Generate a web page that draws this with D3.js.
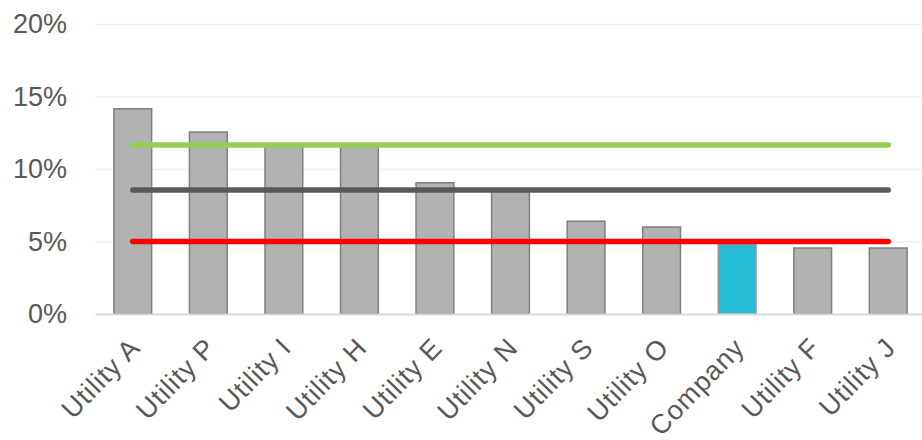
<!DOCTYPE html>
<html>
<head>
<meta charset="utf-8">
<script src="https://cdn.jsdelivr.net/npm/d3@7"></script>
<style>
  html, body { margin: 0; padding: 0; background: #fff; }
  text { font-family: "Liberation Sans", Arial, sans-serif; }
</style>
</head>
<body>
<div id="chart"></div>
<script>
// Values (percent)
const categories = ['Utility A', 'Utility P', 'Utility I', 'Utility H', 'Utility E',
    'Utility N', 'Utility S', 'Utility O', 'Company', 'Utility F', 'Utility J'];
const values = [14.15, 12.55, 11.55, 11.6, 9.05, 8.45, 6.4, 6.0, 4.8, 4.55, 4.55];
const highlight = 'Company';

// Reference lines (percent)
const refNames = ['top', 'average', 'bottom'];
const refValues = [11.65, 8.55, 5.0];
const refColors = ['#92D050', '#595959', '#FF0000'];

const yTicks = [0, 5, 10, 15, 20];

const width = 922;
const height = 440;
const margin = { top: 24, right: -4, bottom: 126, left: 95 };

const svg = d3.select('#chart')
    .append('svg')
    .attr('width', width)
    .attr('height', height);

const chartWidth = width - margin.left - margin.right;
const chartHeight = height - margin.top - margin.bottom;

const g = svg.append('g')
    .attr('transform', `translate(${margin.left},${margin.top})`);

// Scales
const xScale = d3.scaleBand()
    .domain(categories)
    .range([0, chartWidth])
    .paddingInner(0.5)
    .paddingOuter(0.25);

const yScale = d3.scaleLinear()
    .domain([0, 20])
    .range([chartHeight, 0]);

// Grid lines
g.append('g')
    .attr('class', 'grid')
    .call(d3.axisLeft(yScale)
        .tickValues(yTicks.slice(1))
        .tickSize(-chartWidth)
        .tickFormat('')
    )
    .call(s => s.select('.domain').remove())
    .selectAll('line')
    .attr('stroke', '#F0F0F0')
    .attr('stroke-width', 1.5);

// Y axis labels
g.append('g')
    .call(d3.axisLeft(yScale)
        .tickValues(yTicks)
        .tickSize(0)
        .tickPadding(28)
        .tickFormat(d => d + '%')
    )
    .call(s => s.select('.domain').remove())
    .selectAll('text')
    .attr('fill', '#595959')
    .style('font-size', '27px');

// Bars
g.selectAll('.bar')
    .data(categories)
    .enter()
    .append('rect')
    .attr('class', 'bar')
    .attr('x', d => xScale(d))
    .attr('y', (d, i) => yScale(values[i]))
    .attr('width', xScale.bandwidth())
    .attr('height', (d, i) => chartHeight - yScale(values[i]))
    .attr('fill', d => d === highlight ? '#25BDD6' : '#B2B2B2')
    .attr('stroke', d => d === highlight ? '#9A9A9A' : '#7F7F7F')
    .attr('stroke-width', 1.5);

// X axis baseline and labels
const xAxis = g.append('g')
    .attr('transform', `translate(0,${chartHeight})`)
    .call(d3.axisBottom(xScale).tickSize(0));

xAxis.select('.domain')
    .attr('stroke', '#D9D9D9')
    .attr('stroke-width', 2);

xAxis.selectAll('text')
    .attr('fill', '#595959')
    .attr('y', 0)
    .attr('dy', 0)
    .attr('transform', 'translate(9,35) rotate(-46)')
    .style('text-anchor', 'end')
    .style('letter-spacing', '1px')
    .style('font-size', '27px');

// Reference lines, from first to last bar centre
const x0 = xScale(categories[0]) + xScale.bandwidth() / 2;
const x1 = xScale(categories[categories.length - 1]) + xScale.bandwidth() / 2;

g.selectAll('.ref')
    .data(refNames)
    .enter()
    .append('line')
    .attr('class', 'ref')
    .attr('x1', x0)
    .attr('x2', x1)
    .attr('y1', (d, i) => yScale(refValues[i]))
    .attr('y2', (d, i) => yScale(refValues[i]))
    .attr('stroke', (d, i) => refColors[i])
    .attr('stroke-width', 5.5)
    .attr('stroke-linecap', 'round');
</script>
</body>
</html>
